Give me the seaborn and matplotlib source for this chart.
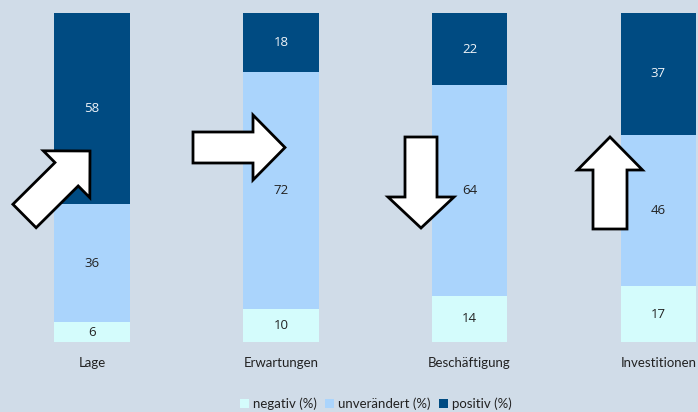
import numpy as np
import pandas as pd
import matplotlib
matplotlib.use("Agg")
import matplotlib.pyplot as plt
from matplotlib.patches import Polygon, Patch
import seaborn as sns

# Daten (Prozent)
categories = ['Lage', 'Erwartungen', 'Beschäftigung', 'Investitionen']
negativ = [6, 10, 14, 17]
unveraendert = [36, 72, 64, 46]
positiv = [58, 18, 22, 37]

series_names = ['negativ (%)', 'unverändert (%)', 'positiv (%)']
colors = ['#d4fcfc', '#aad4fc', '#004b82']
bg = '#d0dce8'

sns.set_theme(style='white')
plt.rcParams['font.family'] = ['Lato', 'DejaVu Sans']

df = pd.DataFrame({'Kategorie': categories, 'neg': negativ,
                   'unv': unveraendert, 'pos': positiv})
df['c1'] = df['neg']
df['c2'] = df['neg'] + df['unv']
df['c3'] = df['c2'] + df['pos']

fig = plt.figure(figsize=(6.98, 4.12), dpi=100, facecolor=bg)
ax = fig.add_axes([0, 70 / 412, 1, 329 / 412])
ax.set_facecolor(bg)

# gestapelte Balken: Summen überlagern
for col, c in zip(['c3', 'c2', 'c1'], colors[::-1]):
    sns.barplot(data=df, x='Kategorie', y=col, order=categories, color=c,
                saturation=1, width=0.4, ax=ax, linewidth=0)

ax.set_xlim(-0.4875, 3.21)
ax.set_ylim(0, 100)
ax.set_xlabel('')
ax.set_ylabel('')
ax.set_yticks([])
ax.tick_params(axis='x', length=0, pad=11, labelsize=9.5, colors='#222222')
sns.despine(ax=ax, left=True, bottom=True)

# Werte in die Segmente schreiben
for i, row in df.iterrows():
    segs = [(0, row['neg']), (row['c1'], row['unv']), (row['c2'], row['pos'])]
    for k, (b, v) in enumerate(segs):
        ax.text(i, b + v / 2, str(v), ha='center', va='center', fontsize=9.5,
                family=['Open Sans', 'DejaVu Sans'],
                color='#f0f4f8' if k == 2 else '#222222')

# Pfeile (Pixelkoordinaten, y von oben)
def arrow(x0, y0, x1, y1, w, hw, hl):
    d = np.array([x1 - x0, y1 - y0], float)
    L = np.hypot(*d)
    u = d / L
    n = np.array([-u[1], u[0]])
    p0 = np.array([x0, y0], float)
    b = p0 + u * (L - hl)
    pts = [p0 + n * w / 2, b + n * w / 2, b + n * hw / 2, p0 + d,
           b - n * hw / 2, b - n * w / 2, p0 - n * w / 2]
    pts = [(p[0] / 698, 1 - p[1] / 412) for p in pts]
    fig.add_artist(Polygon(pts, closed=True, transform=fig.transFigure,
                           facecolor='white', edgecolor='black', lw=2,
                           joinstyle='miter', zorder=5))

arrow(24.5, 216, 90, 151, 33, 66, 33)
arrow(193, 147.5, 285, 147.5, 31, 65, 32)
arrow(421, 137, 421, 228, 32, 66, 31)
arrow(610, 229, 610, 137, 34, 65, 33)

handles = [Patch(facecolor=c, edgecolor='none') for c in colors]
fig.legend(handles, series_names, loc='center', bbox_to_anchor=(376 / 698, 1 - 404 / 412),
           ncol=3, frameon=False, fontsize=9.5, handlelength=0.7, handleheight=0.7,
           handletextpad=0.3, columnspacing=0.6, labelcolor='#222222')

fig.savefig('out.png', dpi=100, facecolor=bg)
